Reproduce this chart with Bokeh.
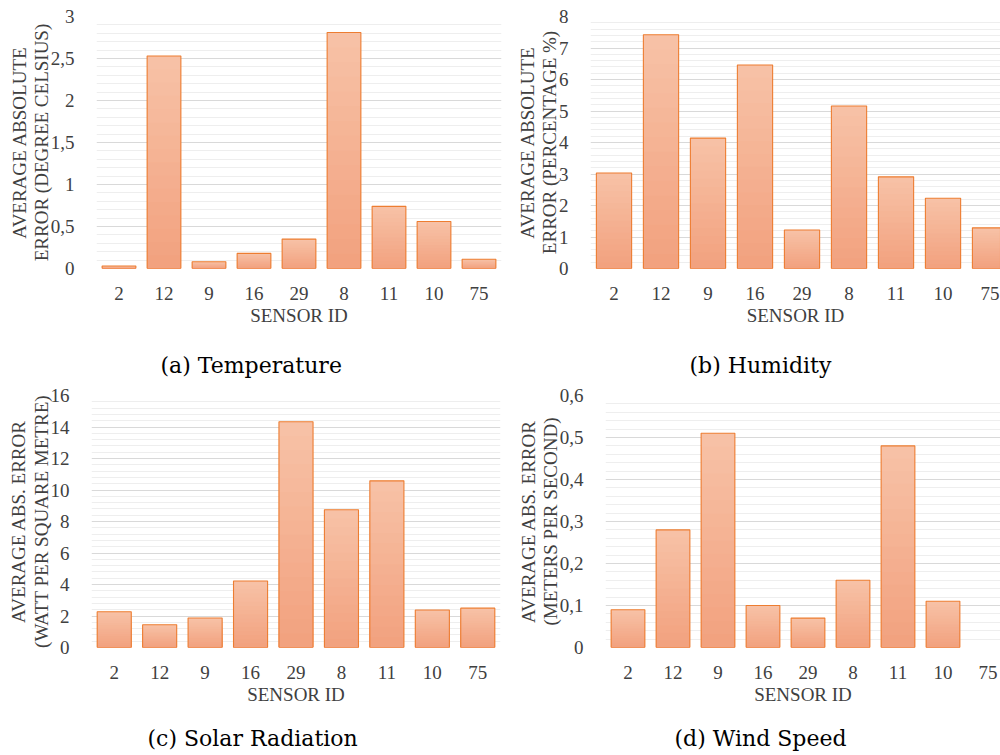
import numpy as np
from bokeh.plotting import figure
from bokeh.layouts import column, row
from bokeh.models import Range1d, FixedTicker, Title
from bokeh.embed import file_html
from bokeh.resources import INLINE

# ---------------- data ----------------
sensors = ["2", "12", "9", "16", "29", "8", "11", "10", "75"]

temperature = [0.03, 2.53, 0.08, 0.18, 0.35, 2.81, 0.74, 0.56, 0.11]
humidity = [3.03, 7.42, 4.14, 6.46, 1.22, 5.16, 2.91, 2.23, 1.29]
solar = [2.27, 1.44, 1.87, 4.22, 14.33, 8.75, 10.58, 2.38, 2.50]
wind = [0.09, 0.28, 0.51, 0.10, 0.07, 0.16, 0.48, 0.11, 0.0]

temp_ticks = [0, 0.5, 1, 1.5, 2, 2.5, 3]
temp_tick_labels = ["0", "0,5", "1", "1,5", "2", "2,5", "3"]
hum_ticks = [0, 1, 2, 3, 4, 5, 6, 7, 8]
hum_tick_labels = ["0", "1", "2", "3", "4", "5", "6", "7", "8"]
solar_ticks = [0, 2, 4, 6, 8, 10, 12, 14, 16]
solar_tick_labels = ["0", "2", "4", "6", "8", "10", "12", "14", "16"]
wind_ticks = [0, 0.1, 0.2, 0.3, 0.4, 0.5, 0.6]
wind_tick_labels = ["0", "0,1", "0,2", "0,3", "0,4", "0,5", "0,6"]

x_title = "SENSOR ID"
ylabels = [
    "AVERAGE ABSOLUTE\nERROR (DEGREE CELSIUS)",
    "AVERAGE ABSOLUTE\nERROR (PERCENTAGE %)",
    "AVERAGE ABS. ERROR\n(WATT PER SQUARE METRE)",
    "AVERAGE ABS. ERROR\n(METERS PER SECOND)",
]
captions = ["(a) Temperature", "(b) Humidity", "(c) Solar Radiation", "(d) Wind Speed"]

# ---------------- style ----------------
TOP_RGB = np.array([247, 193, 166])
BOT_RGB = np.array([242, 162, 127])
EDGE = "#ED7D31"
TXT = "#404040"
SERIF = "Liberation Serif"
CAP_FONT = "DejaVu Serif"


def caption_title(text, offset, standoff):
    return Title(text=text, align="left", offset=offset, standoff=standoff,
                 text_font=CAP_FONT, text_font_size="22px",
                 text_font_style="normal", text_color="black")


def make_panel(values, ticks, tick_labels, ylabel, frame_width, x_end,
               b_left, b_right, b_top, b_bottom):
    p = figure(frame_width=frame_width, frame_height=252,
               min_border_left=b_left, min_border_right=b_right,
               min_border_top=b_top, min_border_bottom=b_bottom,
               x_range=Range1d(-0.5, x_end), y_range=Range1d(0, ticks[-1]),
               output_backend="svg", toolbar_location=None)
    p.outline_line_color = None
    p.background_fill_color = "white"

    vals = np.array(values, dtype=float)
    idx = np.arange(len(vals))
    keep = vals > 0
    xs = idx[keep]
    tops = vals[keep]

    # vertical gradient: stacked bars, each shorter and darker
    n = 16
    for k in range(n):
        t = k / (n - 1)
        rgb = (TOP_RGB * (1 - t) + BOT_RGB * t).round().astype(int)
        col = "#%02x%02x%02x" % tuple(rgb)
        frac = (n - k) / n
        p.vbar(x=xs, top=tops * frac, bottom=0, width=0.75,
               fill_color=col, line_color=None)
    p.vbar(x=xs, top=tops, bottom=0, width=0.75, fill_alpha=0,
           line_color=EDGE, line_width=1.1)

    # y axis / grid
    step = ticks[1] - ticks[0]
    minor = []
    for a in ticks[:-1]:
        for j in range(1, 5):
            minor.append(a + step * j / 5)
    yt = FixedTicker(ticks=ticks, minor_ticks=minor)
    p.yaxis.ticker = yt
    p.ygrid.ticker = yt
    p.yaxis.major_label_overrides = {t: l for t, l in zip(ticks, tick_labels)}
    p.ygrid.grid_line_color = "#D9D9D9"
    p.ygrid.grid_line_width = 1
    p.ygrid.minor_grid_line_color = "#EEEEEE"
    p.xgrid.grid_line_color = None

    xt = FixedTicker(ticks=list(range(len(sensors))))
    p.xaxis.ticker = xt
    p.xaxis.major_label_overrides = {i: s for i, s in enumerate(sensors)}

    for ax in (p.xaxis, p.yaxis):
        ax.axis_line_color = None
        ax.major_tick_line_color = None
        ax.minor_tick_line_color = None
        ax.major_label_text_font = SERIF
        ax.major_label_text_font_size = "19px"
        ax.major_label_text_color = TXT
        ax.axis_label_text_font = SERIF
        ax.axis_label_text_font_size = "19px"
        ax.axis_label_text_font_style = "normal"
        ax.axis_label_text_color = TXT
        ax.axis_label_text_line_height = 1.05

    p.yaxis.axis_label_standoff = -4
    p.xaxis.axis_label_standoff = 2
    p.yaxis.major_label_standoff = 16
    p.xaxis.major_label_standoff = 12
    p.yaxis.axis_label = ylabel
    p.xaxis.axis_label = x_title
    return p


pa = make_panel(temperature, temp_ticks, temp_tick_labels, ylabels[0],
                405, 8.5, 96, 7, 16, 62)
pb = make_panel(humidity, hum_ticks, hum_tick_labels, ylabels[1],
                410, 8.223, 82, 0, 16, 62)
pc = make_panel(solar, solar_ticks, solar_tick_labels, ylabels[2],
                409, 8.5, 91, 14, 65, 91)
pd = make_panel(wind, wind_ticks, wind_tick_labels, ylabels[3],
                395, 8.278, 91, 0, 65, 91)

# captions of the upper panels sit above the lower panels' frames
pc.add_layout(caption_title(captions[0], 69, 36), "above")
pd.add_layout(caption_title(captions[1], 84, 36), "above")
pc.add_layout(caption_title(captions[2], 56, 32), "below")
pd.add_layout(caption_title(captions[3], 69, 32), "below")

layout = column(row(pa, pb), row(pc, pd))

open("out.html", "w").write(file_html(layout, INLINE))
